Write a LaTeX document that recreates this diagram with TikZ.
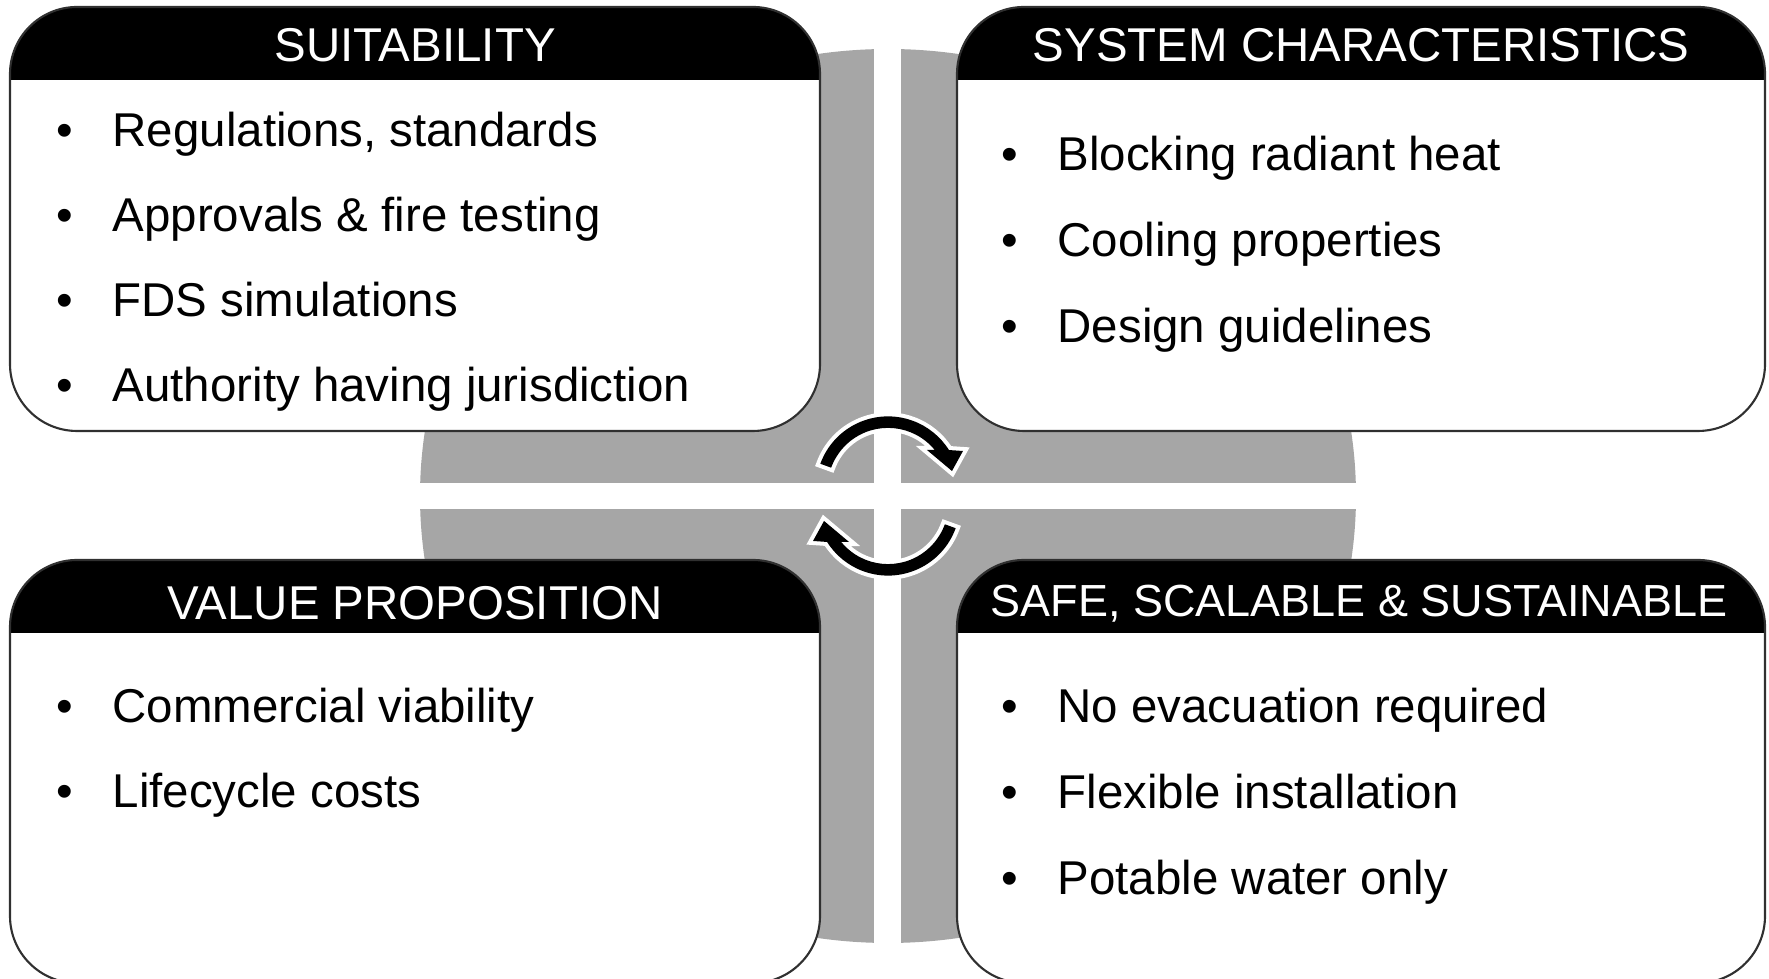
\documentclass[tikz,border=0pt]{standalone}
\usepackage{fontspec}
\setmainfont{Liberation Sans}
\usepackage{tikz}
\usetikzlibrary{positioning}

\definecolor{bggray}{HTML}{A6A6A6}
\definecolor{edgegray}{HTML}{303030}

\tikzset{
	boxline/.style={draw=edgegray, line width=0.6pt, rounded corners=0.67cm},
	boxclip/.style={rounded corners=0.67cm},
	headtext/.style={text=white, anchor=base, inner sep=0pt, font=\fontsize{13.5}{16}\selectfont},
	itemtext/.style={anchor=base west, inner sep=0pt, font=\fontsize{13.5}{16}\selectfont},
	dot/.style={anchor=base, inner sep=0pt, font=\fontsize{13.5}{16}\selectfont},
	% curved block arrow with a white rim
	turnarrow/.pic={
		\fill[black, preaction={draw=white, line width=2.3pt, line join=miter}]
			(160:0.72) arc[start angle=160, end angle=32.2, radius=0.72]
			-- (26.5:0.838) -- (15.2:0.663) -- (44.6:0.547) -- (39.4:0.605)
			arc[start angle=39.4, end angle=160, radius=0.605] -- cycle;
	}
}

\begin{document}
\begin{tikzpicture}
	\useasboundingbox (0,0) rectangle (17.69,9.79);
	\clip (0,0) rectangle (17.69,9.79);
	
	% grey disc split in four
	\fill[bggray] (8.88,4.83) ellipse [x radius=4.68, y radius=4.47];
	\fill[white] (8.74,0) rectangle (9.01,9.79);
	\fill[white] (0,4.70) rectangle (17.69,4.96);
	
	% suitability
	\begin{scope}
		\clip[boxclip] (0.10,5.48) rectangle (8.20,9.72);
		\fill[white] (0.10,5.48) rectangle (8.20,9.72);
		\fill[black] (0.10,8.99) rectangle (8.20,9.72);
	\end{scope}
	\draw[boxline] (0.10,5.48) rectangle (8.20,9.72);
	
	% system characteristics
	\begin{scope}
		\clip[boxclip] (9.57,5.48) rectangle (17.65,9.72);
		\fill[white] (9.57,5.48) rectangle (17.65,9.72);
		\fill[black] (9.57,8.99) rectangle (17.65,9.72);
	\end{scope}
	\draw[boxline] (9.57,5.48) rectangle (17.65,9.72);
	
	% value proposition
	\begin{scope}
		\clip[boxclip] (0.10,-0.04) rectangle (8.20,4.19);
		\fill[white] (0.10,-0.04) rectangle (8.20,4.19);
		\fill[black] (0.10,3.46) rectangle (8.20,4.19);
	\end{scope}
	\draw[boxline] (0.10,-0.04) rectangle (8.20,4.19);
	
	% safe, scalable & sustainable
	\begin{scope}
		\clip[boxclip] (9.57,-0.04) rectangle (17.65,4.19);
		\fill[white] (9.57,-0.04) rectangle (17.65,4.19);
		\fill[black] (9.57,3.46) rectangle (17.65,4.19);
	\end{scope}
	\draw[boxline] (9.57,-0.04) rectangle (17.65,4.19);
	
	% headings
	\node[headtext] (suit) at (4.15,9.17) {SUITABILITY};
	\node[headtext] (sys) at (13.61,9.17) {SYSTEM CHARACTERISTICS};
	\node[headtext] (value) at (4.15,3.59) {VALUE PROPOSITION};
	\node[headtext, font=\fontsize{12.8}{15}\selectfont] (safe) at (13.59,3.62) {SAFE, SCALABLE \& SUSTAINABLE};
	
	% suitability items
	\node[dot] (suit1b) at (0.65,8.32) {•};
	\node[itemtext] (suit1) at (1.12,8.32) {Regulations, standards};
	\node[dot] (suit2b) at (0.65,7.47) {•};
	\node[itemtext] (suit2) at (1.12,7.47) {Approvals \& fire testing};
	\node[dot] (suit3b) at (0.65,6.62) {•};
	\node[itemtext] (suit3) at (1.12,6.62) {FDS simulations};
	\node[dot] (suit4b) at (0.65,5.77) {•};
	\node[itemtext] (suit4) at (1.12,5.77) {Authority having jurisdiction};
	
	% system items
	\node[dot] (sys1b) at (10.10,8.08) {•};
	\node[itemtext] (sys1) at (10.57,8.08) {Blocking radiant heat};
	\node[dot] (sys2b) at (10.10,7.22) {•};
	\node[itemtext] (sys2) at (10.57,7.22) {Cooling properties};
	\node[dot] (sys3b) at (10.10,6.36) {•};
	\node[itemtext] (sys3) at (10.57,6.36) {Design guidelines};
	
	% value items
	\node[dot] (value1b) at (0.65,2.56) {•};
	\node[itemtext] (value1) at (1.12,2.56) {Commercial viability};
	\node[dot] (value2b) at (0.65,1.71) {•};
	\node[itemtext] (value2) at (1.12,1.71) {Lifecycle costs};
	
	% safe items
	\node[dot] (safe1b) at (10.10,2.56) {•};
	\node[itemtext] (safe1) at (10.57,2.56) {No evacuation required};
	\node[dot] (safe2b) at (10.10,1.70) {•};
	\node[itemtext] (safe2) at (10.57,1.70) {Flexible installation};
	\node[dot] (safe3b) at (10.10,0.84) {•};
	\node[itemtext] (safe3) at (10.57,0.84) {Potable water only};
	
	% cycle arrows in the middle
	\pic at (8.88,4.906) {turnarrow};
	\pic[rotate=180] at (8.88,4.754) {turnarrow};
\end{tikzpicture}
\end{document}
